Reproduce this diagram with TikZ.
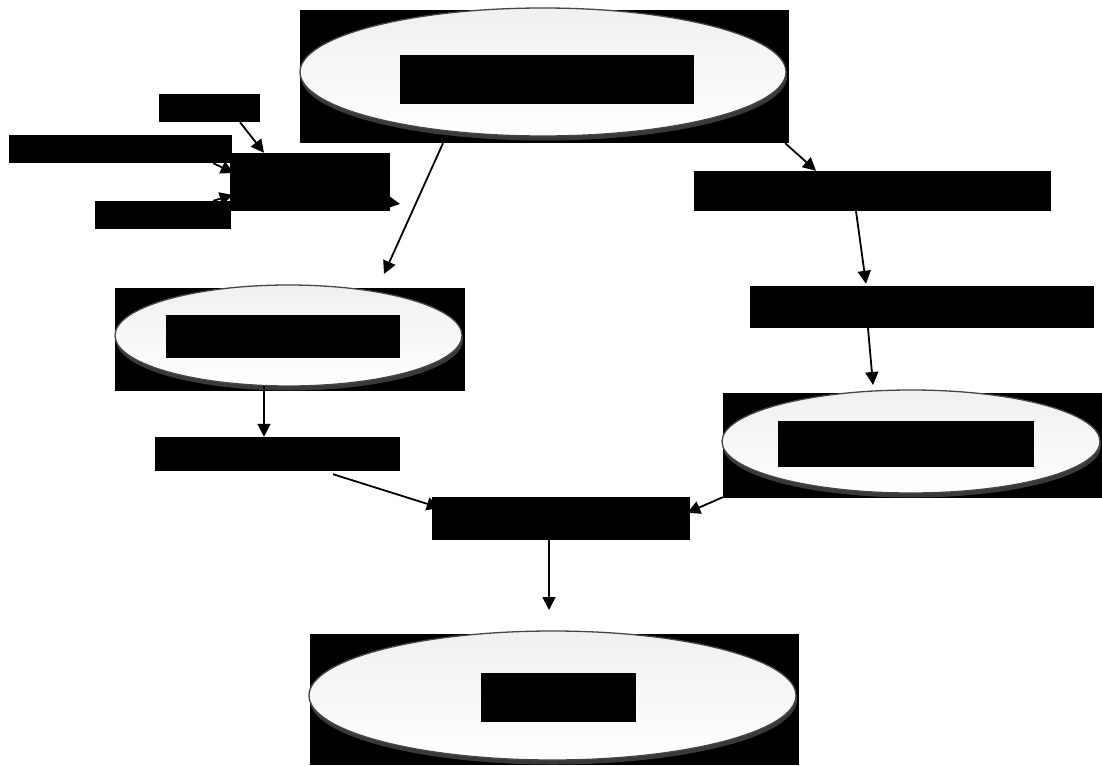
\documentclass[tikz,border=0pt]{standalone}
\usetikzlibrary{shapes.geometric,arrows.meta,calc,shadows}
\tikzset{
  blk/.style={rectangle, fill=black, draw=none, inner sep=0pt},
  oval/.style={ellipse, inner sep=0pt, draw=gray!55!black, line width=1.3pt,
    top color=gray!12, bottom color=white,
    drop shadow={shadow xshift=1pt, shadow yshift=-4.5pt, fill=gray!45!black, opacity=1}},
  arr/.style={-{Triangle[length=13pt,width=13pt]}, line width=1.8pt, black}
}
\begin{document}
\begin{tikzpicture}[x=1pt,y=-1pt]
\fill[white] (0,0) rectangle (1102,765);
\useasboundingbox (0,0) rectangle (1102,765);
% top
\node[blk, minimum width=489pt, minimum height=133pt] (tb) at (544.5,76.5) {};
\node[oval, minimum width=486pt, minimum height=128pt] (te) at (543,72) {};
\node[blk, minimum width=294pt, minimum height=49pt] (ti) at (547,79.5) {};
% left inputs
\node[blk, minimum width=101pt, minimum height=28pt] (a1) at (209.5,108) {};
\node[blk, minimum width=223pt, minimum height=28pt] (a2) at (120.5,149) {};
\node[blk, minimum width=136pt, minimum height=28pt] (a4) at (163,215) {};
\node[blk, minimum width=160pt, minimum height=58pt] (a3) at (309.5,182) {};
% right chain
\node[blk, minimum width=357pt, minimum height=40pt] (r1) at (872.5,191) {};
\node[blk, minimum width=344pt, minimum height=42pt] (r2) at (922,307) {};
\node[blk, minimum width=379pt, minimum height=105pt] (e3r) at (912.5,445.5) {};
\node[oval, minimum width=378pt, minimum height=103pt] (e3) at (911,441.5) {};
\node[blk, minimum width=256pt, minimum height=46pt] (e3i) at (906,444) {};
% left chain
\node[blk, minimum width=350pt, minimum height=103pt] (e2r) at (290,339.5) {};
\node[oval, minimum width=347pt, minimum height=101pt] (e2) at (288.5,335.5) {};
\node[blk, minimum width=234pt, minimum height=43pt] (e2i) at (283,336.5) {};
\node[blk, minimum width=245pt, minimum height=34pt] (l1) at (277.5,454) {};
% merge
\node[blk, minimum width=258pt, minimum height=43pt] (m) at (561,518.5) {};
% bottom
\node[blk, minimum width=489pt, minimum height=131pt] (bb) at (554.5,699.5) {};
\node[oval, minimum width=487pt, minimum height=129pt] (be) at (552.5,695.5) {};
\node[blk, minimum width=155pt, minimum height=49pt] (bi) at (558.5,697.5) {};
% free ends
\coordinate (t1) at (384,274);
\coordinate (t2) at (873,385);
\coordinate (t3) at (549,610);
\coordinate (t4) at (400,204);
% connectors
\draw[arr] ($(a1.south)+(30.5,0)$) -- ($(a3.north)+(-45.5,0)$);
\draw[arr] ($(a2.south east)+(-19,0)$) -- ($(a3.west)+(4.5,-9)$);
\draw[arr] ($(a4.north east)+(-18,0)$) -- ($(a3.west)+(3.5,13)$);
\draw[arr] ($(a3.east)+(-20,17)$) -- (t4);
\draw[arr] ($(tb.south)+(-101.5,0)$) -- (t1);
\draw[arr] ($(tb.south east)+(-4,0)$) -- ($(r1.north)+(-56.5,0)$);
\draw[arr] ($(r1.south)+(-16.5,0)$) -- ($(r2.north)+(-56,-2)$);
\draw[arr] ($(r2.south)+(-54,0)$) -- (t2);
\draw[arr] ($(e2r.south)+(-26,-5)$) -- ($(l1.north)+(-13.5,0)$);
\draw[arr] ($(l1.south)+(55.5,3)$) -- ($(m.north west)+(8,11)$);
\draw[arr] ($(e3r.south west)+(0,-1)$) -- ($(m.north east)+(-3,16)$);
\draw[arr] ($(m.south)+(-12,0)$) -- (t3);
\end{tikzpicture}
\end{document}
